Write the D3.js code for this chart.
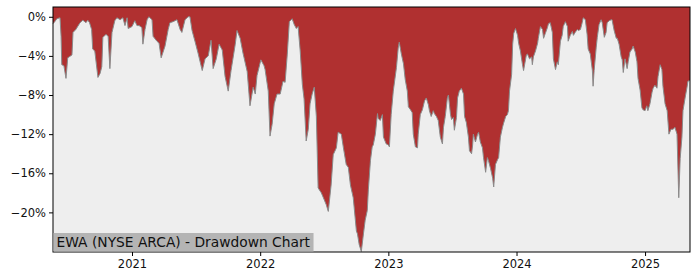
<!DOCTYPE html>
<html>
<head>
<meta charset="utf-8">
<script src="https://cdn.jsdelivr.net/npm/d3@7"></script>
<style>
  body { margin: 0; background: #ffffff; }
  svg { display: block; font-family: "DejaVu Sans", sans-serif; }
</style>
</head>
<body>
<svg id="chart"></svg>
<script>
// drawdown in percent
var dates = [
  "2020-05-21","2020-05-26","2020-06-01","2020-06-10","2020-06-13","2020-06-15","2020-06-21","2020-06-27",
  "2020-07-02","2020-07-14","2020-07-17","2020-07-25","2020-08-06","2020-08-14","2020-08-23","2020-08-28",
  "2020-09-02","2020-09-08","2020-09-11","2020-09-17","2020-09-26","2020-10-02","2020-10-07","2020-10-10",
  "2020-10-19","2020-10-25","2020-10-30","2020-11-05","2020-11-13","2020-11-19","2020-11-28","2020-12-06",
  "2020-12-12","2020-12-18","2020-12-21","2021-01-01",
  "2021-01-09","2021-01-15","2021-01-21","2021-01-29","2021-02-01","2021-02-07","2021-02-13","2021-02-18",
  "2021-02-27","2021-03-02","2021-03-13","2021-03-19","2021-03-25","2021-04-05","2021-04-14","2021-04-19",
  "2021-04-28","2021-05-09","2021-05-18","2021-05-23","2021-06-01","2021-06-10","2021-06-15","2021-06-21",
  "2021-06-30","2021-07-08","2021-07-20","2021-07-28","2021-08-06","2021-08-14","2021-08-20","2021-08-29",
  "2021-09-06","2021-09-15","2021-09-23","2021-10-02","2021-10-10","2021-10-22","2021-10-27","2021-11-05",
  "2021-11-13","2021-11-25","2021-12-03","2021-12-12","2021-12-18","2021-12-23","2022-01-03",
  "2022-01-12","2022-01-15","2022-01-24","2022-01-29","2022-02-04","2022-02-10","2022-02-18","2022-02-27",
  "2022-03-07","2022-03-13","2022-03-19","2022-03-25","2022-04-02","2022-04-08","2022-04-14","2022-04-19",
  "2022-04-25","2022-05-01","2022-05-06","2022-05-12","2022-05-18","2022-05-23","2022-05-29","2022-06-04",
  "2022-06-10","2022-06-15","2022-06-24","2022-06-30","2022-07-08","2022-07-14","2022-07-22","2022-07-28",
  "2022-08-06","2022-08-11","2022-08-20","2022-08-26","2022-09-03","2022-09-09","2022-09-15","2022-09-23",
  "2022-10-02","2022-10-05","2022-10-10","2022-10-16","2022-10-22","2022-10-27","2022-11-02","2022-11-05",
  "2022-11-11","2022-11-16","2022-11-19","2022-11-25","2022-12-01","2022-12-03","2022-12-09","2022-12-15",
  "2022-12-18","2022-12-26","2023-01-01",
  "2023-01-04","2023-01-09","2023-01-15","2023-01-24","2023-01-29","2023-02-01","2023-02-07","2023-02-13",
  "2023-02-18","2023-02-24","2023-02-27","2023-03-05","2023-03-10","2023-03-13","2023-03-19","2023-03-25",
  "2023-03-27","2023-04-02","2023-04-08","2023-04-14","2023-04-19","2023-04-25","2023-04-28","2023-05-03",
  "2023-05-09","2023-05-12","2023-05-18","2023-05-23","2023-05-29","2023-06-04","2023-06-07","2023-06-12",
  "2023-06-18","2023-06-21","2023-06-27","2023-06-30","2023-07-05","2023-07-08","2023-07-14","2023-07-17",
  "2023-07-22","2023-07-28","2023-08-03","2023-08-06","2023-08-11","2023-08-17","2023-08-20","2023-08-26",
  "2023-08-29","2023-08-31","2023-09-06","2023-09-12","2023-09-15","2023-09-20","2023-09-26","2023-09-29",
  "2023-10-05","2023-10-10","2023-10-13","2023-10-19","2023-10-25","2023-10-28","2023-11-02","2023-11-08",
  "2023-11-11","2023-11-16","2023-11-22","2023-11-25","2023-12-01","2023-12-06","2023-12-09","2023-12-12",
  "2023-12-18","2023-12-21","2023-12-24","2023-12-29",
  "2024-01-04","2024-01-07","2024-01-12","2024-01-18","2024-01-21","2024-01-24","2024-01-29","2024-02-01",
  "2024-02-07","2024-02-13","2024-02-15","2024-02-18","2024-02-24","2024-03-01","2024-03-03","2024-03-09",
  "2024-03-15","2024-03-18","2024-03-23","2024-03-29","2024-04-01","2024-04-06","2024-04-12","2024-04-15",
  "2024-04-21","2024-04-26","2024-04-29","2024-05-05","2024-05-10","2024-05-13","2024-05-19","2024-05-25",
  "2024-05-27","2024-06-02","2024-06-08","2024-06-11","2024-06-16","2024-06-22","2024-06-25","2024-07-01",
  "2024-07-06","2024-07-09","2024-07-15","2024-07-20","2024-07-23","2024-07-29","2024-08-04","2024-08-06",
  "2024-08-09","2024-08-15","2024-08-18","2024-08-23","2024-08-29","2024-09-01","2024-09-07","2024-09-12",
  "2024-09-15","2024-09-21","2024-09-27","2024-09-29","2024-10-05","2024-10-11","2024-10-14","2024-10-19",
  "2024-10-25","2024-10-28","2024-10-31","2024-11-05","2024-11-11","2024-11-14","2024-11-19","2024-11-25",
  "2024-11-28","2024-12-04","2024-12-09","2024-12-12","2024-12-18","2024-12-23","2024-12-26","2025-01-01",
  "2025-01-06","2025-01-09","2025-01-15","2025-01-21","2025-01-24","2025-01-29","2025-02-04","2025-02-07",
  "2025-02-13","2025-02-18","2025-02-21","2025-02-27","2025-03-05","2025-03-10","2025-03-16","2025-03-22",
  "2025-03-27","2025-04-02","2025-04-07","2025-04-11","2025-04-16","2025-04-19","2025-04-25","2025-05-01",
  "2025-05-03","2025-05-09"
];
var drawdown = [
  -0.7,-0.5,-0.2,-0.1,-2.0,-4.9,-5.0,-6.3,
  -4.2,-3.9,-1.6,-1.3,-0.6,-0.35,-0.6,-0.35,
  -0.6,-1.3,-3.3,-3.5,-6.2,-5.8,-5.1,-2.1,
  -1.8,-2.0,-5.3,-1.6,-0.4,-0.1,-0.3,-0.1,
  -0.9,-0.1,-1.2,-1.0,
  -0.4,-0.9,-0.9,-1.1,-2.8,-1.3,-0.3,0,
  -0.3,-2.0,-2.5,-2.7,-4.2,-3.0,-1.3,-0.6,
  -0.5,-0.3,-1.3,-1.6,-0.3,0,0,-1.4,
  -2.6,-3.7,-5.5,-4.3,-4.0,-2.4,-5.3,-4.3,
  -2.8,-3.4,-6.1,-7.6,-5.5,-2.8,-1.4,-2.2,
  -3.7,-5.6,-9.1,-7.2,-7.9,-6.0,-4.4,
  -5.0,-5.4,-7.6,-12.2,-11.0,-8.9,-7.9,-7.9,
  -6.6,-6.7,-3.9,-0.5,-0.2,-0.8,-1.2,-1.0,
  -3.5,-6.9,-8.4,-12.7,-11.5,-8.9,-7.9,-7.2,
  -10.2,-17.5,-18.0,-18.5,-19.2,-19.9,-17.2,-14.1,
  -13.4,-11.8,-12.0,-13.4,-15.1,-15.4,-17.2,-18.5,
  -21.9,-22.2,-23.3,-24.0,-22.2,-20.8,-19.8,-17.7,
  -14.7,-13.3,-13.1,-12.0,-9.9,-10.4,-10.6,-10.0,
  -12.3,-13.0,-13.1,
  -13.3,-10.0,-7.6,-5.2,-3.2,-2.6,-3.8,-4.8,
  -6.4,-7.6,-9.2,-9.5,-9.8,-12.0,-13.3,-13.4,
  -12.0,-10.0,-9.5,-8.6,-8.3,-9.0,-9.6,-10.2,
  -9.6,-9.9,-10.2,-10.6,-12.3,-13.0,-11.3,-10.2,
  -8.3,-8.0,-10.0,-10.5,-10.3,-11.6,-10.3,-8.3,
  -7.6,-7.3,-7.9,-10.2,-10.8,-12.3,-13.7,-14.0,
  -13.1,-12.0,-12.8,-12.0,-11.8,-12.8,-13.4,-14.4,
  -15.9,-14.4,-14.7,-15.5,-16.5,-17.4,-15.1,-14.6,
  -14.4,-12.3,-11.3,-10.9,-10.2,-10.0,-9.6,-7.6,
  -5.9,-2.8,-1.7,-1.2,
  -1.9,-2.7,-3.5,-4.9,-5.5,-4.9,-3.9,-3.8,
  -4.3,-4.1,-4.9,-4.1,-3.5,-2.7,-2.2,-1.0,
  -1.3,-2.2,-1.7,-1.1,-0.7,-0.6,-1.6,-4.3,
  -5.4,-4.6,-4.9,-2.5,-1.9,-1.0,-0.5,-1.0,
  -2.5,-1.9,-1.5,-1.9,-1.6,-1.3,-1.4,-1.3,
  -0.6,-0.1,-0.3,-1.8,-3.3,-3.8,-5.5,-7.1,
  -5.5,-3.1,-2.1,-0.8,-0.3,-0.6,-2.1,-1.6,
  -0.6,-0.4,-0.3,-0.3,-1.4,-2.2,-2.2,-2.8,
  -4.1,-4.4,-5.7,-4.3,-5.3,-4.6,-3.6,-3.3,
  -3.0,-3.6,-4.6,-6.3,-7.5,-9.3,-9.5,-9.6,
  -9.1,-9.6,-8.9,-7.7,-7.3,-7.0,-7.3,-6.1,
  -4.9,-5.4,-7.1,-8.9,-9.6,-12.0,-11.5,-11.5,
  -11.3,-12.0,-18.5,-14.5,-12.3,-9.6,-8.3,-7.1,
  -6.6,-6.5
];
var yTicks = [0, -4, -8, -12, -16, -20];
var xTickYears = ["2021", "2022", "2023", "2024", "2025"];
var title = "EWA (NYSE ARCA) - Drawdown Chart";

var W = 700, H = 280;
var margin = {top: 7, right: 10, bottom: 28, left: 53},
    width = W - margin.left - margin.right,
    height = H - margin.top - margin.bottom;

var parse = d3.timeParse("%Y-%m-%d");
var data = dates.map(function(d, i) { return {date: parse(d), v: drawdown[i]}; });

var x = d3.scaleTime()
  .domain(d3.extent(data, function(d) { return d.date; }))
  .range([0, width]);
var y = d3.scaleLinear().domain([-24.05, 1.0]).range([height, 0]);

var svg = d3.select("#chart").attr("width", W).attr("height", H);
var g = svg.append("g").attr("transform", "translate(" + margin.left + "," + margin.top + ")");

// background of the plot area
g.append("rect").attr("width", width).attr("height", height).attr("fill", "#eeeeee");

// fill from the top of the axes down to the drawdown line
var area = d3.area()
  .x(function(d) { return x(d.date); })
  .y0(0)
  .y1(function(d) { return y(d.v); });

var line = d3.line()
  .x(function(d) { return x(d.date); })
  .y(function(d) { return y(d.v); });

g.append("path").datum(data).attr("d", area).attr("fill", "#b03030");
g.append("path").datum(data).attr("d", line)
  .attr("fill", "none").attr("stroke", "#8a8a8a").attr("stroke-width", 1);

// axes
var fmt = function(d) { return (d < 0 ? "\u2212" : "") + Math.abs(d) + "%"; };
var yAxis = g.append("g")
  .call(d3.axisLeft(y).tickValues(yTicks).tickFormat(fmt).tickSize(4).tickPadding(3));
var xAxis = g.append("g")
  .attr("transform", "translate(0," + height + ")")
  .call(d3.axisBottom(x)
    .tickValues(xTickYears.map(function(s) { return parse(s + "-01-01"); }))
    .tickFormat(d3.timeFormat("%Y")).tickSize(4).tickPadding(4));

[yAxis, xAxis].forEach(function(a) {
  a.select(".domain").remove();
  a.selectAll("text").attr("font-size", 11.5).attr("fill", "#111").attr("font-family", "DejaVu Sans");
  a.selectAll("line").attr("stroke", "#000");
});

// frame
g.append("rect").attr("width", width).attr("height", height)
  .attr("fill", "none").attr("stroke", "#000").attr("stroke-width", 1);

// title label in the lower left corner
var lab = g.append("g");
var box = lab.append("rect").attr("fill", "#b4b4b4");
var txt = lab.append("text")
  .attr("x", 3.5).attr("y", height - 5)
  .attr("font-size", 13.8).attr("fill", "#111")
  .text(title);
var tw = txt.node().getComputedTextLength();
box.attr("x", 0.5).attr("y", height - 19).attr("width", tw + 6.5).attr("height", 18.5);
</script>
</body>
</html>
